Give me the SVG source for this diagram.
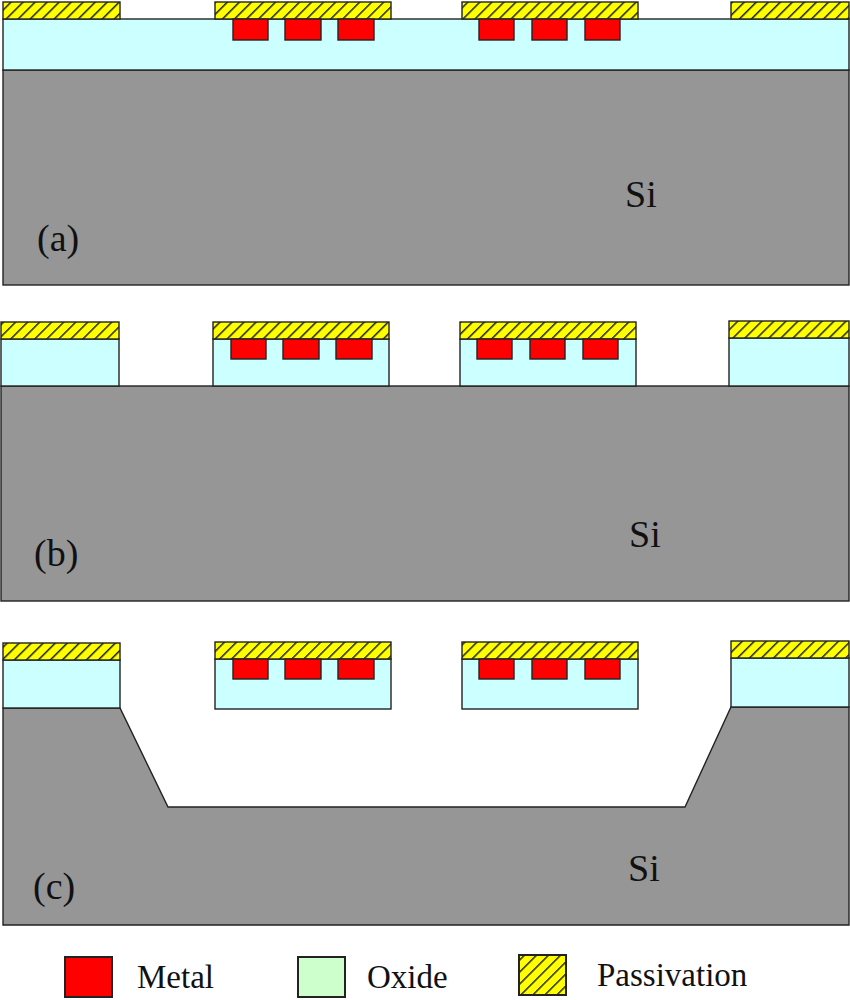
<svg xmlns="http://www.w3.org/2000/svg" width="850" height="1000" viewBox="0 0 850 1000">
<style>
rect,path.s{stroke:#222;stroke-width:1.4}
.si{fill:#969696}
.ox{fill:#ccffff}
.m{fill:#ff0000}
.p{fill:url(#hatch)}
text{font-family:"Liberation Serif","Times New Roman",serif;fill:#111}
.lab{font-size:38px}
.leg{font-size:33px}
</style>
<defs>
<pattern id="hatch" patternUnits="userSpaceOnUse" width="8.5" height="8.5" patternTransform="rotate(45)">
<rect x="0" y="0" width="8.5" height="8.5" style="fill:#ffff00;stroke:none"/>
<rect x="0" y="0" width="1.5" height="8.5" style="fill:#222;stroke:none"/>
</pattern>
</defs>
<rect width="850" height="1000" style="fill:#fff;stroke:none"/>
<g id="panel-a">
<rect class="si" x="3" y="70" width="846" height="215"/>
<rect class="ox" x="3" y="19" width="846" height="51"/>
<rect class="p" x="3" y="2" width="117" height="17"/>
<rect class="p" x="215" y="2" width="176" height="17"/>
<rect class="p" x="462" y="2" width="176" height="17"/>
<rect class="p" x="731" y="2" width="118" height="17"/>
<rect class="m" x="233" y="19" width="35" height="21"/>
<rect class="m" x="285" y="19" width="36" height="21"/>
<rect class="m" x="338" y="19" width="36" height="21"/>
<rect class="m" x="479" y="19" width="35" height="21"/>
<rect class="m" x="532" y="19" width="35" height="21"/>
<rect class="m" x="585" y="19" width="35" height="21"/>
<text class="lab" x="625" y="207">Si</text>
<text class="lab" x="37" y="251">(a)</text>
</g>
<g id="panel-b">
<rect class="si" x="1" y="386" width="848" height="215"/>
<rect class="ox" x="1" y="339" width="118" height="47"/>
<rect class="ox" x="213" y="339" width="176" height="47"/>
<rect class="ox" x="460" y="339" width="176" height="47"/>
<rect class="ox" x="729" y="338" width="120" height="48"/>
<rect class="p" x="1" y="322" width="118" height="17"/>
<rect class="p" x="213" y="322" width="176" height="17"/>
<rect class="p" x="460" y="322" width="176" height="17"/>
<rect class="p" x="729" y="321" width="120" height="17"/>
<rect class="m" x="231" y="339" width="35" height="20"/>
<rect class="m" x="283" y="339" width="36" height="20"/>
<rect class="m" x="336" y="339" width="36" height="20"/>
<rect class="m" x="477" y="339" width="35" height="20"/>
<rect class="m" x="530" y="339" width="35" height="20"/>
<rect class="m" x="583" y="339" width="35" height="20"/>
<text class="lab" x="629" y="547">Si</text>
<text class="lab" x="34" y="566">(b)</text>
</g>
<g id="panel-c">
<path class="s si" d="M3 708H120L168 807H685L731 707H849V925H3Z"/>
<rect class="ox" x="3" y="660" width="117" height="48"/>
<rect class="ox" x="215" y="659" width="176" height="50"/>
<rect class="ox" x="462" y="659" width="176" height="50"/>
<rect class="ox" x="731" y="658" width="118" height="49"/>
<rect class="p" x="3" y="643" width="117" height="17"/>
<rect class="p" x="215" y="642" width="176" height="17"/>
<rect class="p" x="462" y="642" width="176" height="17"/>
<rect class="p" x="731" y="641" width="118" height="17"/>
<rect class="m" x="233" y="659" width="35" height="20"/>
<rect class="m" x="285" y="659" width="36" height="20"/>
<rect class="m" x="338" y="659" width="36" height="20"/>
<rect class="m" x="479" y="659" width="35" height="20"/>
<rect class="m" x="532" y="659" width="35" height="20"/>
<rect class="m" x="585" y="659" width="35" height="20"/>
<text class="lab" x="628" y="881">Si</text>
<text class="lab" x="33" y="899">(c)</text>
</g>
<g id="legend">
<rect class="m" x="65" y="957" width="47" height="40" style="stroke-width:2"/>
<text class="leg" x="137" y="988">Metal</text>
<rect x="298" y="957" width="47" height="40" style="fill:#ccffcc;stroke-width:2"/>
<text class="leg" x="367" y="988">Oxide</text>
<rect class="p" x="519" y="955" width="47" height="40" style="stroke-width:2"/>
<text class="leg" x="597" y="986">Passivation</text>
</g>
</svg>
